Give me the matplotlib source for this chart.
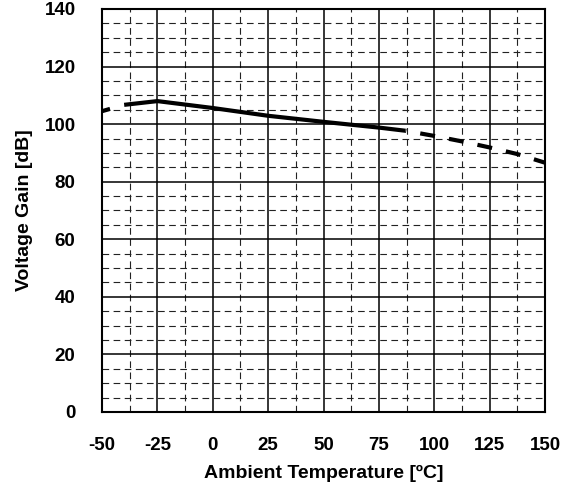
import matplotlib
matplotlib.use("Agg")
import matplotlib.pyplot as plt
import numpy as np

plt.rcParams['font.family'] = ['Liberation Sans', 'DejaVu Sans']
plt.rcParams['axes.unicode_minus'] = False

# data
temp_lo = [-50, -40]
gain_lo = [104.5, 106.7]
temp_mid = [-40, -25, 0, 25, 50, 75, 87]
gain_mid = [106.7, 108.0, 105.6, 102.9, 100.8, 98.8, 97.7]
temp_hi = [87, 100, 112.5, 125, 137.5, 150]
gain_hi = [97.7, 95.9, 94.0, 91.9, 89.6, 86.6]

xticks = [-50, -25, 0, 25, 50, 75, 100, 125, 150]
yticks = [0, 20, 40, 60, 80, 100, 120, 140]

fig = plt.figure(figsize=(5.68, 4.91), dpi=100)
ax = fig.add_axes([0.1796, 0.1609, 0.7799, 0.8208])

ax.set_xlim(-50, 150)
ax.set_ylim(0, 140)
ax.set_xticks(xticks)
ax.set_yticks(yticks)
ax.set_xticks(np.arange(-50, 151, 12.5), minor=True)
ax.set_yticks(np.arange(0, 141, 5), minor=True)

ax.grid(which='major', color='black', linewidth=1.1, linestyle='-')
ax.grid(which='minor', color='#222222', linewidth=0.8, linestyle=(0, (6, 4)))
ax.set_axisbelow(True)

ax.plot(temp_lo, gain_lo, color='black', linewidth=3, linestyle=(0, (2.0, 5.0)), dash_capstyle='butt')
ax.plot(temp_mid, gain_mid, color='black', linewidth=3, solid_capstyle='butt')
ax.plot(temp_hi, gain_hi, color='black', linewidth=3, linestyle=(3.4, (3.6, 3.4)), dash_capstyle='butt')

ax.tick_params(which='both', length=0)
ax.tick_params(axis='x', pad=18)
ax.tick_params(axis='y', pad=19)
for lab in ax.get_xticklabels() + ax.get_yticklabels():
    lab.set_fontweight('bold')
    lab.set_fontsize(13.5)

for s in ax.spines.values():
    s.set_linewidth(1.5)
    s.set_color('black')

ax.set_xlabel('Ambient Temperature [ºC]', fontsize=14, fontweight='bold', labelpad=8)
ax.set_ylabel('Voltage Gain [dB]', fontsize=14, fontweight='bold', labelpad=8)

fig.savefig('out.png', dpi=100)
